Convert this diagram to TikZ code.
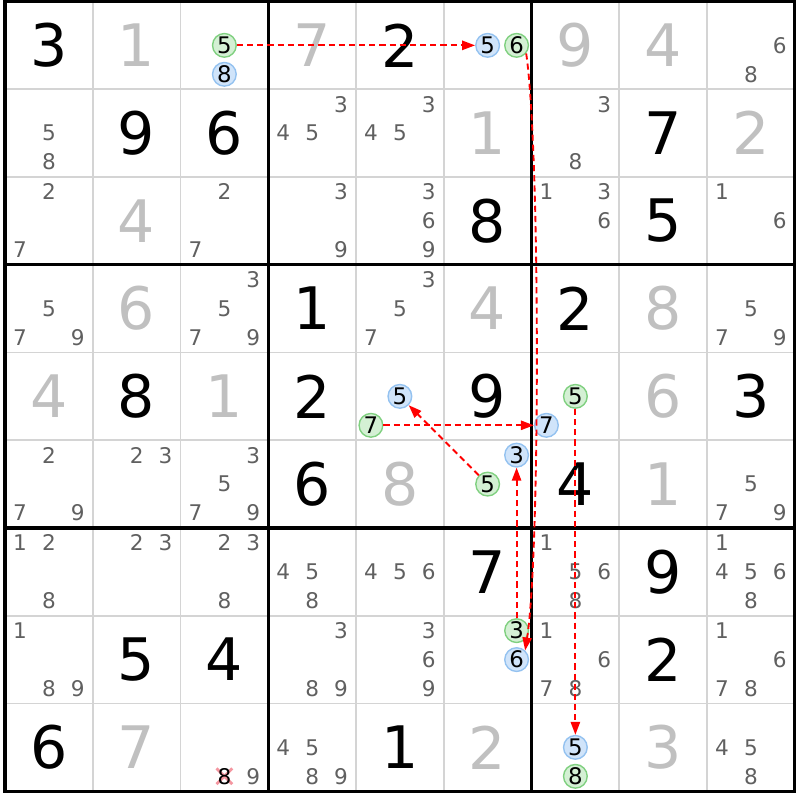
\documentclass[tikz,border=0pt]{standalone}
\usepackage{fontspec}
\setmainfont{DejaVu Sans}
\usetikzlibrary{arrows.meta}
\definecolor{solvedgray}{RGB}{192,192,192}
\definecolor{candgray}{RGB}{96,96,96}
\definecolor{thingray}{RGB}{212,212,212}
\definecolor{onfill}{RGB}{212,240,212}
\definecolor{ondraw}{RGB}{128,208,128}
\definecolor{offfill}{RGB}{208,228,250}
\definecolor{offdraw}{RGB}{148,194,240}
\definecolor{killpink}{RGB}{244,150,160}
\definecolor{linkred}{RGB}{255,0,0}

\begin{document}
\begin{tikzpicture}[x=1cm,y=-1cm,>={Triangle[length=4.2pt,width=3pt]},
  given/.style={font=\fontsize{19}{19}\selectfont,inner sep=0pt},
  solved/.style={given,text=solvedgray},
  cand/.style={font=\fontsize{7}{7}\selectfont,inner sep=0pt,text=candgray},
  on cand/.style={cand,font=\fontsize{7.4}{7.4}\selectfont,text=black,circle,
    draw=ondraw,fill=onfill,line width=0.45pt,minimum size=0.27cm},
  off cand/.style={on cand,draw=offdraw,fill=offfill},
  kill/.style={killpink,line width=0.9pt},
  thin line/.style={thingray,line width=0.6pt},
  box line/.style={black,line width=1pt},
  link/.style={->,linkred,line width=0.6pt,dash pattern=on 2pt off 1.3pt}]

  \useasboundingbox (-0.057,-0.017) rectangle (9.06,9.10);

  \foreach \i in {1,2,4,5,7,8}
    \draw[thin line] (\i,0) -- (\i,9) (0,\i) -- (9,\i);
  \foreach \i in {3,6}
    \draw[box line] (\i,0) -- (\i,9) (0,\i) -- (9,\i);
  \draw[box line] (0,0) rectangle (9,9);

  \foreach \r/\c/\v in {1/1/3,1/5/2,2/2/9,2/3/6,2/8/7,3/6/8,3/8/5,4/4/1,4/7/2,
      5/2/8,5/4/2,5/6/9,5/9/3,6/4/6,6/7/4,7/6/7,7/8/9,8/2/5,8/3/4,8/8/2,9/1/6,9/5/1}
    \node[given] (v\r-\c) at (\c-0.5,\r-0.5) {\v};

  \foreach \r/\c/\v in {1/2/1,1/4/7,1/7/9,1/8/4,2/6/1,2/9/2,3/2/4,4/2/6,4/6/4,
      4/8/8,5/1/4,5/3/1,5/8/6,6/5/8,6/8/1,9/2/7,9/6/2,9/8/3}
    \node[solved] (v\r-\c) at (\c-0.5,\r-0.5) {\v};

  \foreach \r/\c/\ds in {1/9/{6,8},2/1/{5,8},2/4/{3,4,5},2/5/{3,4,5},2/7/{3,8},
      3/1/{2,7},3/3/{2,7},3/4/{3,9},3/5/{3,6,9},3/7/{1,3,6},3/9/{1,6},
      4/1/{5,7,9},4/3/{3,5,7,9},4/5/{3,5,7},4/9/{5,7,9},
      6/1/{2,7,9},6/2/{2,3},6/3/{3,5,7,9},6/9/{5,7,9},
      7/1/{1,2,8},7/2/{2,3},7/3/{2,3,8},7/4/{4,5,8},7/5/{4,5,6},7/7/{1,5,6,8},
      7/9/{1,4,5,6,8},8/1/{1,8,9},8/4/{3,8,9},8/5/{3,6,9},8/7/{1,6,7,8},
      8/9/{1,6,7,8},9/3/{9},9/4/{4,5,8,9},9/9/{4,5,8}}
    \foreach \d in \ds {
      \pgfmathsetmacro\cx{\c-0.5+0.33*(mod(\d-1,3)-1)}
      \pgfmathsetmacro\cy{\r-0.5+0.33*(int((\d-1)/3)-1)}
      \node[cand] (n\r-\c-\d) at (\cx,\cy) {\d};
    }

  \foreach \r/\c/\d in {1/3/5,1/6/6,5/5/7,5/7/5,6/6/5,8/6/3,9/7/8} {
    \pgfmathsetmacro\cx{\c-0.5+0.33*(mod(\d-1,3)-1)}
    \pgfmathsetmacro\cy{\r-0.5+0.33*(int((\d-1)/3)-1)}
    \node[on cand] (n\r-\c-\d) at (\cx,\cy) {\d};
  }

  \foreach \r/\c/\d in {1/3/8,1/6/5,5/5/5,5/7/7,6/6/3,8/6/6,9/7/5} {
    \pgfmathsetmacro\cx{\c-0.5+0.33*(mod(\d-1,3)-1)}
    \pgfmathsetmacro\cy{\r-0.5+0.33*(int((\d-1)/3)-1)}
    \node[off cand] (n\r-\c-\d) at (\cx,\cy) {\d};
  }

  \coordinate (x9-3-8) at (2.5,8.83);
  \draw[kill] (x9-3-8) +(-0.09,-0.09) -- +(0.09,0.09) +(-0.09,0.09) -- +(0.09,-0.09);
  \node[cand,text=black] (n9-3-8) at (x9-3-8) {8};

  \draw[link] (n1-3-5) -- (n1-6-5);
  \draw[link] (n1-6-6.-40) .. controls (6.1,1.7) and (6.1,6.3) .. (n8-6-6.47);
  \draw[link] (n8-6-3) -- (n6-6-3);
  \draw[link] (n6-6-5) -- (n5-5-5);
  \draw[link] (n5-5-7) -- (n5-7-7);
  \draw[link] (n5-7-5) -- (n9-7-5);
\end{tikzpicture}
\end{document}
